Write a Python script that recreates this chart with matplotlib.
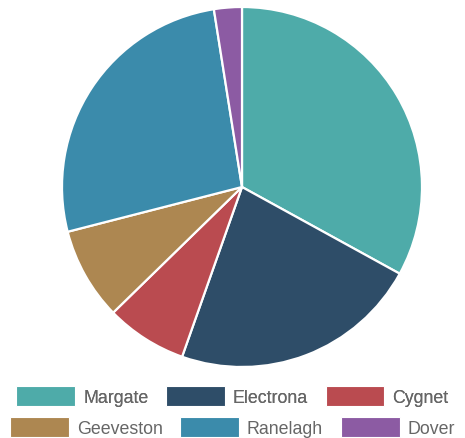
import matplotlib.pyplot as plt
from matplotlib.patches import Patch

plt.rcParams['font.family'] = ['Liberation Sans', 'DejaVu Sans']

labels = ['Margate', 'Electrona', 'Cygnet', 'Geeveston', 'Ranelagh', 'Dover']
values = [33.0, 22.4, 7.3, 8.3, 26.5, 2.5]
colors = ['#4EABA9', '#2E4D68', '#BA4B50', '#AD8751', '#3B8BAB', '#8C5BA3']

W, H = 465, 439
fig = plt.figure(figsize=(W / 100, H / 100), dpi=100)

# pie: centre (242, 188), radius 180 px
cx, cy, r = 242, 188, 180
ax = fig.add_axes([(cx - r) / W, (H - cy - r) / H, 2 * r / W, 2 * r / H])
ax.pie(values, colors=colors, startangle=90, counterclock=False,
       wedgeprops=dict(edgecolor='white', linewidth=1.6))
ax.set_xlim(-1, 1)
ax.set_ylim(-1, 1)
ax.set_aspect('equal')

handles = [Patch(facecolor=c, edgecolor='white', linewidth=0.8) for c in colors]
kw = dict(ncol=3, frameon=False, loc='center', fontsize=12.8,
          handlelength=3.3, handleheight=1.3, handletextpad=0.45,
          columnspacing=1.0, labelcolor='#666666', borderpad=0)
leg1 = fig.legend(handles[:3], labels[:3], bbox_to_anchor=(0.5, 1 - 397 / H), **kw)
fig.add_artist(leg1)
fig.legend(handles[3:], labels[3:], bbox_to_anchor=(0.5, 1 - 428 / H), **kw)

fig.savefig('out.png', dpi=100)
